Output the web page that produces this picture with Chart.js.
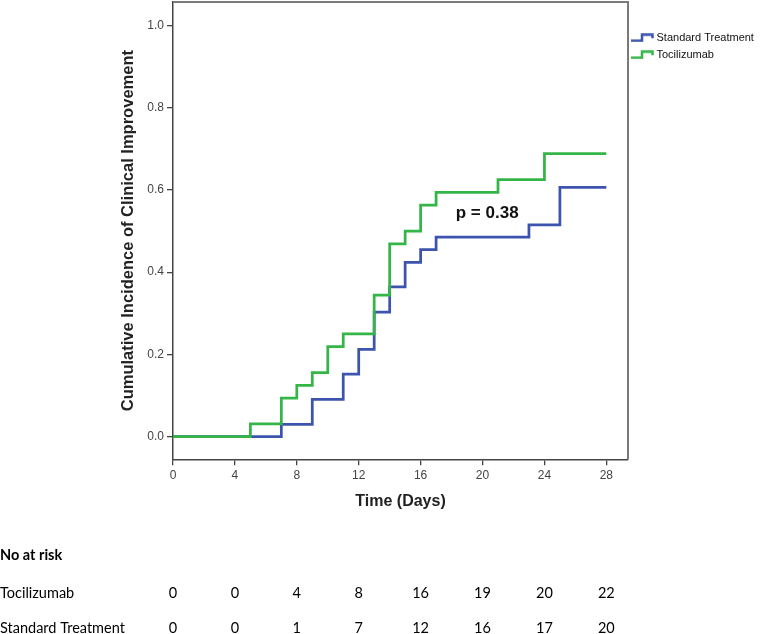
<!DOCTYPE html>
<html>
<head>
<meta charset="utf-8">
<title>Cumulative incidence of clinical improvement</title>
<script src="https://cdn.jsdelivr.net/npm/chart.js@4.4.1/dist/chart.umd.min.js"></script>
<style>
  html, body { margin: 0; padding: 0; background: #fff; }
  #chart { display: block; }
</style>
</head>
<body>
<canvas id="chart" width="762" height="634"></canvas>
<script>
// step points (day, cumulative incidence)
const tociDays = [0, 5, 7, 8, 9, 10, 11, 13, 14, 15, 16, 17, 21, 24, 28];
const tociIncidence = [0, 0.031, 0.094, 0.125, 0.156, 0.219, 0.25, 0.344, 0.469, 0.5, 0.563, 0.594, 0.625, 0.688, 0.688];
const stdDays = [0, 7, 9, 11, 12, 13, 14, 15, 16, 17, 23, 25, 28];
const stdIncidence = [0, 0.03, 0.091, 0.152, 0.212, 0.303, 0.364, 0.424, 0.455, 0.485, 0.515, 0.606, 0.606];

const xTicks = [0, 4, 8, 12, 16, 20, 24, 28];
const yTicks = [0, 0.2, 0.4, 0.6, 0.8, 1.0];

// number at risk table under the plot
const riskDays = [0, 4, 8, 12, 16, 20, 24, 28];
const riskTocilizumab = [0, 0, 4, 8, 16, 19, 20, 22];
const riskStandard = [0, 0, 1, 7, 12, 16, 17, 20];

const pValueText = 'p = 0.38';

const BLUE = '#3d54ae';
const GREEN = '#34b548';
const ARIAL = "'Liberation Sans', Arial, sans-serif";
const CALIBRI = "Lato, 'Liberation Sans', sans-serif";

Chart.defaults.font.family = ARIAL;

// little step glyph used as legend symbol
function stepIcon(color) {
    const c = document.createElement('canvas');
    c.width = 23;
    c.height = 9;
    const g = c.getContext('2d');
    g.strokeStyle = color;
    g.lineWidth = 2.5;
    g.beginPath();
    g.moveTo(0, 7.5);
    g.lineTo(11, 7.5);
    g.lineTo(11, 1.5);
    g.lineTo(21.5, 1.5);
    g.lineTo(21.5, 5);
    g.stroke();
    return c;
}

const toPoints = (days, vals) => days.map((d, i) => ({ x: d, y: vals[i] }));

// gray box on top / right like the SPSS frame
const framePlugin = {
    id: 'frame',
    beforeDatasetsDraw(chart) {
        const { ctx, chartArea: a } = chart;
        ctx.save();
        ctx.strokeStyle = '#7a7a7a';
        ctx.lineWidth = 2;
        ctx.beginPath();
        ctx.moveTo(a.left, a.top);
        ctx.lineTo(a.right, a.top);
        ctx.lineTo(a.right, a.bottom);
        ctx.stroke();
        ctx.restore();
    }
};

const pValuePlugin = {
    id: 'pValue',
    afterDatasetsDraw(chart) {
        const { ctx, scales } = chart;
        ctx.save();
        ctx.font = 'bold 17px ' + ARIAL;
        ctx.fillStyle = '#111';
        ctx.textAlign = 'center';
        ctx.textBaseline = 'middle';
        ctx.fillText(pValueText, scales.x.getPixelForValue(20.3), scales.y.getPixelForValue(0.543));
        ctx.restore();
    }
};

const riskTablePlugin = {
    id: 'riskTable',
    afterDraw(chart) {
        const { ctx, scales } = chart;
        ctx.save();
        ctx.fillStyle = '#000';
        ctx.textBaseline = 'alphabetic';
        ctx.textAlign = 'left';
        ctx.font = 'bold 14.5px ' + CALIBRI;
        ctx.fillText('No at risk', 0, 560);
        ctx.font = '14.5px ' + CALIBRI;
        const rows = [['Tocilizumab', riskTocilizumab, 598], ['Standard Treatment', riskStandard, 633]];
        rows.forEach(([name, counts, y]) => {
            ctx.textAlign = 'left';
            ctx.fillText(name, 0, y);
            ctx.textAlign = 'center';
            counts.forEach((n, i) => {
                ctx.fillText(String(n), scales.x.getPixelForValue(riskDays[i]), y);
            });
        });
        ctx.restore();
    }
};

const ctx = document.getElementById('chart').getContext('2d');
new Chart(ctx, {
    type: 'line',
    data: {
        datasets: [
            {
                label: 'Standard Treatment',
                data: toPoints(stdDays, stdIncidence),
                borderColor: BLUE,
                backgroundColor: BLUE,
                pointStyle: stepIcon(BLUE),
                order: 2
            },
            {
                label: 'Tocilizumab',
                data: toPoints(tociDays, tociIncidence),
                borderColor: GREEN,
                backgroundColor: GREEN,
                pointStyle: stepIcon(GREEN),
                order: 1
            }
        ]
    },
    options: {
        responsive: false,
        animation: false,
        datasets: {
            line: {
                stepped: 'before',
                borderWidth: 2.75,
                pointRadius: 0,
                pointHoverRadius: 0,
                fill: false
            }
        },
        layout: { padding: { top: 2, left: 0, right: 0, bottom: 0 } },
        scales: {
            x: {
                type: 'linear',
                min: 0,
                max: 29.4,
                afterBuildTicks: s => { s.ticks = xTicks.map(v => ({ value: v })); },
                afterFit: s => { s.height = 174.7; s.paddingLeft = 0; s.paddingRight = 0; },
                ticks: { color: '#444', font: { size: 12 }, padding: 3, maxRotation: 0 },
                grid: { drawOnChartArea: false, drawTicks: true, tickLength: 6, color: '#444', lineWidth: 1.3 },
                border: { color: '#444', width: 1.5 },
                title: {
                    display: true,
                    text: 'Time (Days)',
                    color: '#222',
                    font: { size: 16, weight: 'bold' },
                    padding: { top: 4, bottom: 123 }
                }
            },
            y: {
                min: -0.055,
                max: 1.057,
                afterBuildTicks: s => { s.ticks = yTicks.map(v => ({ value: v })); },
                afterFit: s => { s.width = 173; s.paddingTop = 0; s.paddingBottom = 0; },
                ticks: { color: '#444', font: { size: 12 }, padding: 3, callback: v => v.toFixed(1) },
                grid: { drawOnChartArea: false, drawTicks: true, tickLength: 6, color: '#444', lineWidth: 1.3 },
                border: { color: '#444', width: 1.5 },
                title: {
                    display: true,
                    text: 'Cumulative Incidence of Clinical Improvement',
                    color: '#222',
                    font: { size: 16.5, weight: 'bold' },
                    padding: { top: 119, bottom: 0 }
                }
            }
        },
        plugins: {
            tooltip: { enabled: false },
            legend: {
                position: 'right',
                align: 'start',
                maxWidth: 134,
                title: { display: true, text: '', padding: { top: 11, bottom: 0 }, font: { size: 11 } },
                labels: {
                    usePointStyle: true,
                    pointStyleWidth: 17,
                    padding: 6,
                    color: '#111',
                    font: { size: 11 },
                    sort: (a, b) => a.datasetIndex - b.datasetIndex
                }
            }
        }
    },
    plugins: [framePlugin, pValuePlugin, riskTablePlugin]
});
</script>
</body>
</html>
